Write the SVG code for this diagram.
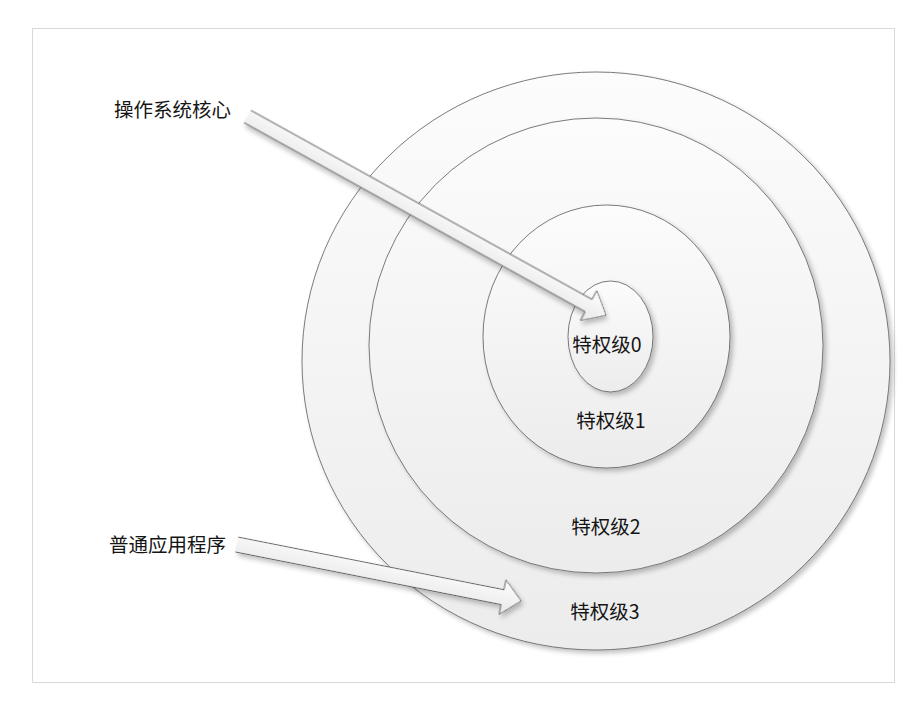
<svg xmlns="http://www.w3.org/2000/svg" width="922" height="702" viewBox="0 0 922 702">
<style>
.ring{stroke:#5a5a5a;stroke-width:0.8;fill:url(#g)}
.arrowfill{fill:url(#ga);stroke:none}
.arrowline{fill:none;stroke:#555;stroke-width:0.9;stroke-linejoin:miter}
.lbl{font-family:"Noto Sans CJK SC","Noto Sans",sans-serif;font-size:19.5px;fill:#151515}
.mid{text-anchor:middle}
</style>
<defs>
<linearGradient id="g" x1="0" y1="0" x2="0" y2="1">
<stop offset="0" stop-color="#fcfcfc"/>
<stop offset="1" stop-color="#ececec"/>
</linearGradient>
<linearGradient id="ga" x1="0" y1="0" x2="0" y2="1">
<stop offset="0" stop-color="#fdfdfd"/>
<stop offset="1" stop-color="#e8e8e8"/>
</linearGradient>
<filter id="sh" x="-10%" y="-10%" width="125%" height="125%">
<feGaussianBlur in="SourceAlpha" stdDeviation="2.5"/>
<feOffset dx="3" dy="3" result="b"/>
<feComponentTransfer><feFuncA type="linear" slope="0.25"/></feComponentTransfer>
<feMerge><feMergeNode/><feMergeNode in="SourceGraphic"/></feMerge>
</filter>
</defs>
<rect x="0" y="0" width="922" height="702" fill="#ffffff"/>
<rect x="32.5" y="28.5" width="862" height="654" fill="#ffffff" stroke="#d9d9d9" stroke-width="1"/>
<g id="level3">
<ellipse class="ring" cx="596" cy="361" rx="294" ry="289" filter="url(#sh)"/>
</g>
<g id="level2">
<ellipse class="ring" cx="596" cy="345.5" rx="227" ry="227.5" filter="url(#sh)"/>
</g>
<g id="level1">
<ellipse class="ring" cx="606.5" cy="336.5" rx="123.5" ry="131.5" filter="url(#sh)"/>
</g>
<g id="level0">
<ellipse class="ring" cx="610.5" cy="336.5" rx="42.5" ry="55.5" filter="url(#sh)"/>
</g>
<g id="labels">
<text class="lbl mid" x="607" y="352">特权级0</text>
<text class="lbl mid" x="611" y="428">特权级1</text>
<text class="lbl mid" x="606" y="534">特权级2</text>
<text class="lbl mid" x="605" y="619">特权级3</text>
</g>
<g id="connectors">
<g transform="translate(247.5,116.5) rotate(29)" filter="url(#sh)">
<path class="arrowfill" d="M0,-7 L390,-7 L390,-17 L410,0 L390,17 L390,7 L0,7 Z"/>
<path class="arrowline" d="M0,-7 L390,-7 L390,-17 L410,0 L390,17 L390,7 L0,7"/>
</g>
<g transform="translate(236.7,544.5) rotate(11.2)" filter="url(#sh)">
<path class="arrowfill" d="M0,-7.5 L271,-7.5 L271,-17.5 L290,0 L271,17.5 L271,7.5 L0,7.5 Z"/>
<path class="arrowline" d="M0,-7.5 L271,-7.5 L271,-17.5 L290,0 L271,17.5 L271,7.5 L0,7.5"/>
</g>
</g>
<g id="kernel">
<text class="lbl" x="114" y="117">操作系统核心</text>
</g>
<g id="apps">
<text class="lbl" x="109" y="552">普通应用程序</text>
</g>
</svg>
